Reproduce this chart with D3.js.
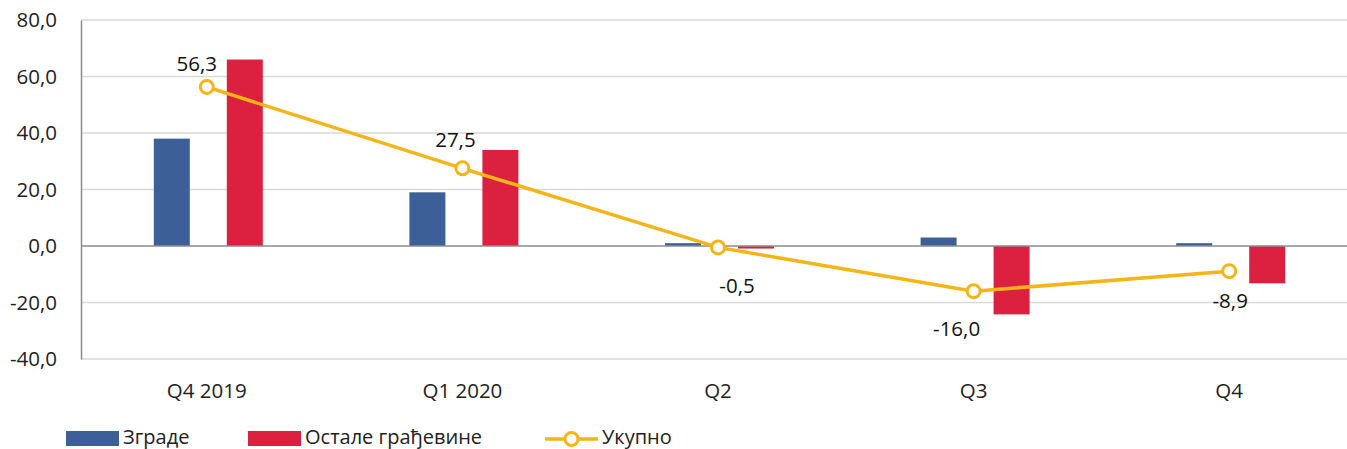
<!DOCTYPE html>
<html><head><meta charset="utf-8">
<script src="https://cdn.jsdelivr.net/npm/d3@7"></script>
<style>body{margin:0;background:#fff;overflow:hidden}text{font-family:"Open Sans",sans-serif}</style>
</head><body><svg id="c" width="1347" height="449"></svg>
<script>
const categories = ["Q4 2019", "Q1 2020", "Q2", "Q3", "Q4"];
const zgrade = [38.0, 19.0, 1.0, 3.0, 1.0];
const ostale = [66.0, 34.0, -0.9, -24.2, -13.2];
const ukupno = [56.3, 27.5, -0.5, -16.0, -8.9];
const yTicks = [-40, -20, 0, 20, 40, 60, 80];
const seriesNames = ["Зграде", "Остале грађевине", "Укупно"];

(function () {
const colors = {blue: "#3C5F97", red: "#DC203F", yellow: "#F5B418"};
const fmt = v => d3.format(".1f")(v).replace(".", ",").replace("−", "-");
const fs = 20.5;

const svg = d3.select("#c");
const left = 81, plotTop = 20, plotBottom = 359;
const x = d3.scaleBand().domain(categories).range([79, 79 + 5 * 255.6]).paddingInner(0).paddingOuter(0);
const y = d3.scaleLinear().domain([-40, 80]).range([plotBottom, plotTop]);

// gridlines
svg.append("g").selectAll("line").data(yTicks.filter(d => d !== 0)).join("line")
  .attr("x1", left).attr("x2", 1347).attr("y1", d => y(d)).attr("y2", d => y(d))
  .attr("stroke", "#D9D9D9").attr("stroke-width", 1.5);

// y axis
const yAxis = d3.axisLeft(y).tickValues(yTicks).tickFormat(fmt).tickSize(0).tickPadding(24);
const gy = svg.append("g").attr("transform", `translate(${left},0)`).call(yAxis);
gy.select(".domain").attr("stroke", "#8C8C8C").attr("stroke-width", 1.5);
gy.selectAll("text").attr("font-size", fs).attr("fill", "#222").attr("font-family", "Open Sans");

// bars
const bw = 36;
const gBars = svg.append("g");
gBars.selectAll("rect.b").data(categories).join("rect").attr("class", "b")
  .attr("x", (d) => x(d) + x.bandwidth() / 2 - 53)
  .attr("width", bw)
  .attr("y", (d, i) => y(Math.max(0, zgrade[i])))
  .attr("height", (d, i) => Math.abs(y(zgrade[i]) - y(0)))
  .attr("fill", colors.blue);
gBars.selectAll("rect.r").data(categories).join("rect").attr("class", "r")
  .attr("x", (d) => x(d) + x.bandwidth() / 2 + 20)
  .attr("width", bw)
  .attr("y", (d, i) => y(Math.max(0, ostale[i])))
  .attr("height", (d, i) => Math.abs(y(ostale[i]) - y(0)))
  .attr("fill", colors.red);

// zero line
svg.append("line").attr("x1", left).attr("x2", 1347).attr("y1", y(0)).attr("y2", y(0))
  .attr("stroke", "#8C8C8C").attr("stroke-width", 1.5);

// x labels
const xAxis = d3.axisBottom(x).tickSize(0).tickPadding(0);
const gx = svg.append("g").attr("transform", `translate(0,${plotBottom})`).call(xAxis);
gx.select(".domain").remove();
gx.selectAll("text").attr("font-size", fs).attr("fill", "#222").attr("dy", 0).attr("y", 39).attr("font-family", "Open Sans");

// line
const cx = d => x(d) + x.bandwidth() / 2;
const line = d3.line().x((d, i) => cx(categories[i])).y(d => y(d));
svg.append("path").datum(ukupno).attr("d", line).attr("fill", "none")
  .attr("stroke", colors.yellow).attr("stroke-width", 3.5);
svg.append("g").selectAll("circle").data(ukupno).join("circle")
  .attr("cx", (d, i) => cx(categories[i])).attr("cy", d => y(d)).attr("r", 6.5)
  .attr("fill", "#fff").attr("stroke", colors.yellow).attr("stroke-width", 3);

// data labels
const lblOff = [[-10, -16], [-7, -21], [19, 46], [-17, 45], [1, 37]];
svg.append("g").selectAll("text").data(ukupno).join("text")
  .attr("x", (d, i) => cx(categories[i]) + lblOff[i][0])
  .attr("y", (d, i) => y(d) + lblOff[i][1])
  .attr("text-anchor", "middle").attr("font-size", fs).attr("fill", "#111")
  .text(fmt);

// legend
const lg = svg.append("g");
const legendX = [66, 248, 545];
lg.append("rect").attr("x", legendX[0]).attr("y", 431).attr("width", 53).attr("height", 15).attr("fill", colors.blue);
lg.append("rect").attr("x", legendX[1]).attr("y", 431).attr("width", 53).attr("height", 15).attr("fill", colors.red);
lg.append("line").attr("x1", legendX[2]).attr("x2", legendX[2] + 53).attr("y1", 439).attr("y2", 439)
  .attr("stroke", colors.yellow).attr("stroke-width", 3.5);
lg.append("circle").attr("cx", legendX[2] + 26.5).attr("cy", 439).attr("r", 6.5)
  .attr("fill", "#fff").attr("stroke", colors.yellow).attr("stroke-width", 3);
lg.selectAll("text").data(seriesNames).join("text")
  .attr("x", (d, i) => legendX[i] + 57).attr("y", 444)
  .attr("font-size", 20).attr("fill", "#222").text(d => d);
})();
</script></body></html>
